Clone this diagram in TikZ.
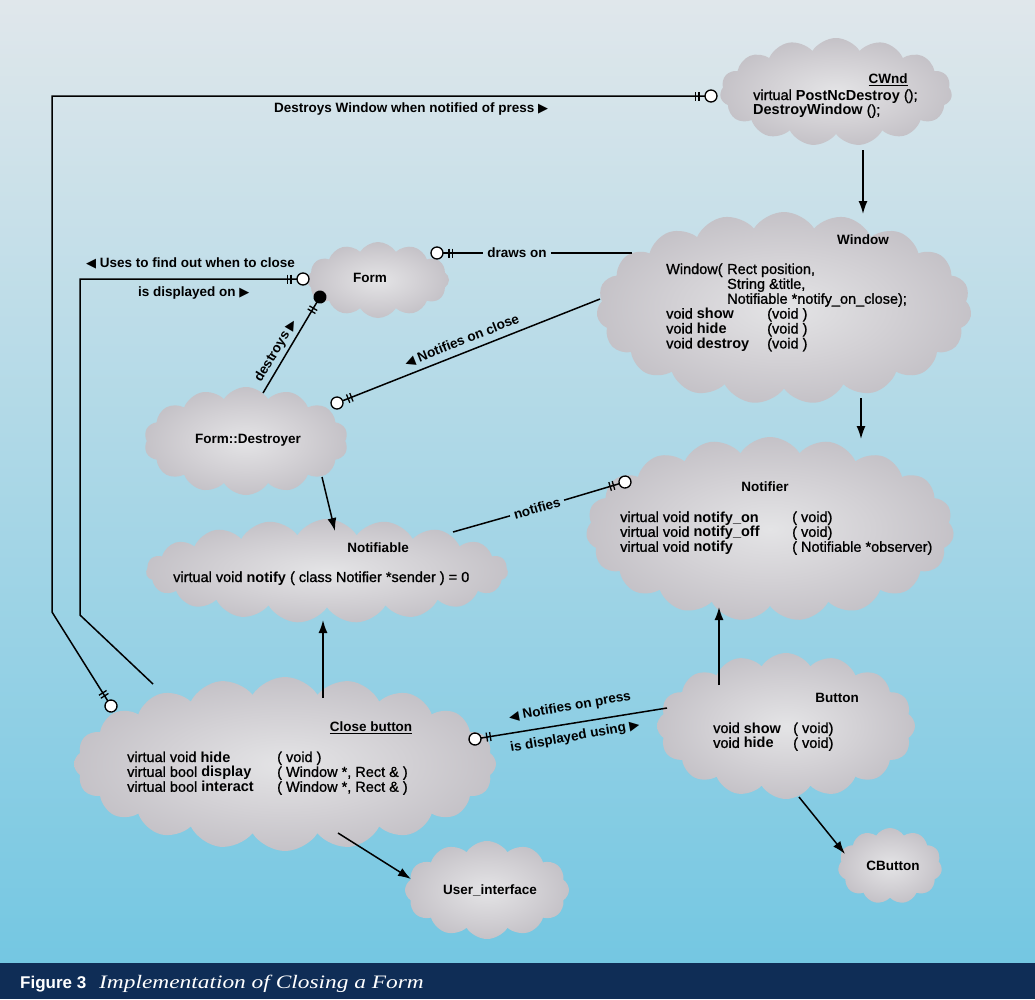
\documentclass[tikz,border=0pt]{standalone}
\usepackage{fontspec}
\setmainfont{Liberation Sans}[UprightFeatures={FakeBold=1}]
\newfontfamily\symfont{DejaVu Sans}
\newfontfamily\capfont{Liberation Serif}
\usetikzlibrary{shapes.symbols,arrows.meta,decorations.markings}
\definecolor{bgTop}{HTML}{E0E7EB}
\definecolor{bgMid}{HTML}{A9D8EA}
\definecolor{bgBot}{HTML}{74C7E2}
\definecolor{barBlue}{HTML}{0F2D56}
\definecolor{cldA}{HTML}{E4E4E6}
\definecolor{cldB}{HTML}{D3D1D5}
\definecolor{cldC}{HTML}{BEBBC1}
\definecolor{cldD}{HTML}{A9A5AB}
\definecolor{cldE}{HTML}{9D99A0}
\pgfdeclareradialshading{cloudshade}{\pgfpoint{0bp}{0bp}}{color(0bp)=(cldA); color(14bp)=(cldB); color(30bp)=(cldC); color(42bp)=(cldD); color(50bp)=(cldE)}
\newcommand\mylefttri{{\symfont\fontsize{13}{13}\selectfont ◀}}
\newcommand\myrighttri{{\symfont\fontsize{13}{13}\selectfont ▶}}
\setlength\tabcolsep{0pt}
\tikzset{
  cloudbox/.style={cloud, cloud puffs=16, cloud puff arc=115, cloud ignores aspect, shade, shading=cloudshade, inner sep=0pt},
  lbl/.style={font=\fontsize{13.5}{14}\selectfont\bfseries, inner sep=1pt},
  lblgap/.style={lbl, inner sep=4pt},
  ttl/.style={font=\fontsize{13.5}{14}\selectfont\bfseries, inner sep=0pt},
  body/.style={font=\fontsize{14.5}{14.6}\selectfont, inner sep=0pt, anchor=base west},
  conn/.style={line width=1.5pt, black},
  arr/.style={conn, -{Latex[length=13pt,width=9pt]}},
  erStart/.style={postaction={decorate,decoration={markings,mark=at position 0 with {\draw[line width=1.3pt] (12pt,-4.5pt)--(12pt,4.5pt) (15.5pt,-4.5pt)--(15.5pt,4.5pt); \draw[line width=1.3pt,fill=white] (0pt,0pt) circle (6pt);}}}},
  erEnd/.style={postaction={decorate,decoration={markings,mark=at position 1 with {\draw[line width=1.3pt] (-12pt,-4.5pt)--(-12pt,4.5pt) (-15.5pt,-4.5pt)--(-15.5pt,4.5pt); \draw[line width=1.3pt,fill=white] (0pt,0pt) circle (6pt);}}}},
  erDotEnd/.style={postaction={decorate,decoration={markings,mark=at position 1 with {\draw[line width=1.3pt] (-13pt,-4.5pt)--(-13pt,4.5pt) (-16.5pt,-4.5pt)--(-16.5pt,4.5pt); \fill[black] (0pt,0pt) circle (6.5pt);}}}}
}
\begin{document}
\begin{tikzpicture}[x=1pt,y=-1pt]
\useasboundingbox (0,0) rectangle (1035,999);
% background
\shade[top color=bgTop, middle color=bgMid, bottom color=bgBot] (0,0) rectangle (1035,963);
\fill[barBlue] (0,963) rectangle (1035,999);
\node[anchor=base west, text=white, inner sep=0pt, font=\fontsize{17}{17}\selectfont\bfseries] (figno) at (20,988) {Figure 3};
\node[anchor=base west, text=white, inner sep=0pt] (figtitle) at (99,988) {\scalebox{1.23}[1]{\capfont\itshape\fontsize{19}{19}\selectfont Implementation of Closing a Form}};

% clouds
\node[cloudbox, cloud puffs=15, minimum width=232pt, minimum height=108pt] (cwnd) at (836,92) {};
\node[cloudbox, cloud puffs=19, minimum width=375pt, minimum height=192pt] (window) at (784,308) {};
\node[cloudbox, cloud puffs=12, minimum width=142pt, minimum height=76pt] (form) at (378,280) {};
\node[cloudbox, cloud puffs=14, minimum width=204pt, minimum height=108pt] (destroyer) at (246,441) {};
\node[cloudbox, cloud puffs=19, minimum width=362pt, minimum height=104pt] (notifiable) at (327,571) {};
\node[cloudbox, cloud puffs=19, minimum width=368pt, minimum height=184pt] (notifier) at (770,529) {};
\node[cloudbox, cloud puffs=20, minimum width=422pt, minimum height=174pt] (closebtn) at (285,764) {};
\node[cloudbox, cloud puffs=16, minimum width=258pt, minimum height=146pt] (button) at (786,726) {};
\node[cloudbox, cloud puffs=11, minimum width=104pt, minimum height=76pt] (cbutton) at (890,866) {};
\node[cloudbox, cloud puffs=12, minimum width=164pt, minimum height=98pt] (uiface) at (487,890) {};

% cloud texts
\node[ttl] (tCWnd) at (888,80) {\underline{CWnd}};
\node[body] (bCWnd) at (753,100) {\begin{tabular}[t]{l}virtual \textbf{PostNcDestroy} ();\\ \textbf{DestroyWindow} ();\end{tabular}};
\node[ttl] (tWindow) at (863,240) {Window};
\node[body] (bWindow) at (666,274) {\begin{tabular}[t]{l}\makebox[61pt][l]{Window(}Rect position,\\ \hspace*{61pt}String \&title,\\ \hspace*{61pt}Notifiable *notify\_on\_close);\\ \makebox[101pt][l]{void \textbf{show}}(void )\\ \makebox[101pt][l]{void \textbf{hide}}(void )\\ \makebox[101pt][l]{void \textbf{destroy}}(void )\end{tabular}};
\node[ttl] (tForm) at (370,278) {Form};
\node[ttl] (tDestroyer) at (248,440) {Form::Destroyer};
\node[ttl] (tNotifiable) at (378,548) {Notifiable};
\node[body] (bNotifiable) at (173,582) {virtual void \textbf{notify} ( class Notifier *sender ) = 0};
\node[ttl] (tNotifier) at (765,487) {Notifier};
\node[body] (bNotifier) at (620,522) {\begin{tabular}[t]{l}\makebox[172pt][l]{virtual void \textbf{notify\_on}}( void)\\ \makebox[172pt][l]{virtual void \textbf{notify\_off}}( void)\\ \makebox[172pt][l]{virtual void \textbf{notify}}( Notifiable *observer)\end{tabular}};
\node[ttl] (tClose) at (371,728) {\underline{Close button}};
\node[body] (bClose) at (127,762) {\begin{tabular}[t]{l}\makebox[150pt][l]{virtual void \textbf{hide}}( void )\\ \makebox[150pt][l]{virtual bool \textbf{display}}( Window *, Rect \& )\\ \makebox[150pt][l]{virtual bool \textbf{interact}}( Window *, Rect \& )\end{tabular}};
\node[ttl] (tButton) at (837,698) {Button};
\node[body] (bButton) at (713,733) {\begin{tabular}[t]{l}\makebox[80pt][l]{void \textbf{show}}( void)\\ \makebox[80pt][l]{void \textbf{hide}}( void)\end{tabular}};
\node[ttl] (tCButton) at (893,866) {CButton};
\node[ttl] (tUi) at (490,890) {User\_interface};

% labels
\node[lbl, anchor=west] (lblDestroys) at (273,109) {Destroys Window when notified of press \myrighttri};
\node[lbl, anchor=west] (lblUses) at (85,263) {\mylefttri\ Uses to find out when to close};
\node[lbl, anchor=west] (lblDisp) at (137,293) {is displayed on \myrighttri};
\node[lblgap] (lblDraws) at (517,253) {draws on};
\node[lbl, rotate=21.6] (lblNclose) at (462,341) {\mylefttri\ Notifies on close};
\node[lbl, rotate=59.3] (lblDestroysF) at (276,351) {destroys \myrighttri};
\node[lblgap, rotate=16.2] (lblNotifies) at (537,508) {notifies};
\node[lbl, rotate=10] (lblNpress) at (570,707) {\mylefttri\ Notifies on press};
\node[lbl, rotate=10] (lblDispUsing) at (575,737) {is displayed using \myrighttri};

% connector end points
\coordinate (pCloseA) at (111,706);
\coordinate (b1) at (52,612);
\coordinate (b2) at (52,96);
\coordinate (pCWnd) at (711,96);
\coordinate (pFormA) at (303,279);
\coordinate (b3) at (80,279);
\coordinate (b4) at (80,615);
\coordinate (pCloseB) at (153,684);
\coordinate (pDestrA) at (263,393);
\coordinate (pFormB) at (320,297);
\coordinate (pDestrB) at (337,403);
\coordinate (pWinA) at (600,299);
\coordinate (pFormC) at (437,253);
\coordinate (pWinB) at (632,253);
\coordinate (pNotifiableA) at (453,532);
\coordinate (pNotifierA) at (625,482);
\coordinate (pCloseC) at (475,739);
\coordinate (pButtonA) at (667,708);
\coordinate (pCWndB) at (863,150);
\coordinate (pWinT) at (863,214);
\coordinate (pWinBot) at (861,398);
\coordinate (pNotifierT) at (861,439);
\coordinate (pDestrC) at (322,477);
\coordinate (pNotifiableT) at (335,531);
\coordinate (pCloseT) at (323,698);
\coordinate (pNotifiableB) at (323,620);
\coordinate (pButtonT) at (719,685);
\coordinate (pNotifierB) at (719,607);
\coordinate (pCloseD) at (338,833);
\coordinate (pUiT) at (411,879);
\coordinate (pButtonB) at (799,797);
\coordinate (pCButtonT) at (845,854);

% connectors
\draw[conn, erStart, erEnd] (pCloseA) -- (b1) -- (b2) -- (pCWnd);
\draw[conn, erStart] (pFormA) -- (b3) -- (b4) -- (pCloseB);
\draw[conn, erDotEnd] (pDestrA) -- (pFormB);
\draw[conn, erStart] (pDestrB) -- (pWinA);
\draw[conn, erEnd] (lblDraws.west) -- (pFormC);
\draw[conn] (lblDraws.east) -- (pWinB);
\draw[conn] (pNotifiableA) -- (lblNotifies.west);
\draw[conn, erEnd] (lblNotifies.east) -- (pNotifierA);
\draw[conn, erStart] (pCloseC) -- (pButtonA);
\draw[arr] (pCWndB) -- (pWinT);
\draw[arr] (pWinBot) -- (pNotifierT);
\draw[arr] (pDestrC) -- (pNotifiableT);
\draw[arr] (pCloseT) -- (pNotifiableB);
\draw[arr] (pButtonT) -- (pNotifierB);
\draw[arr] (pCloseD) -- (pUiT);
\draw[arr] (pButtonB) -- (pCButtonT);
\end{tikzpicture}
\end{document}
